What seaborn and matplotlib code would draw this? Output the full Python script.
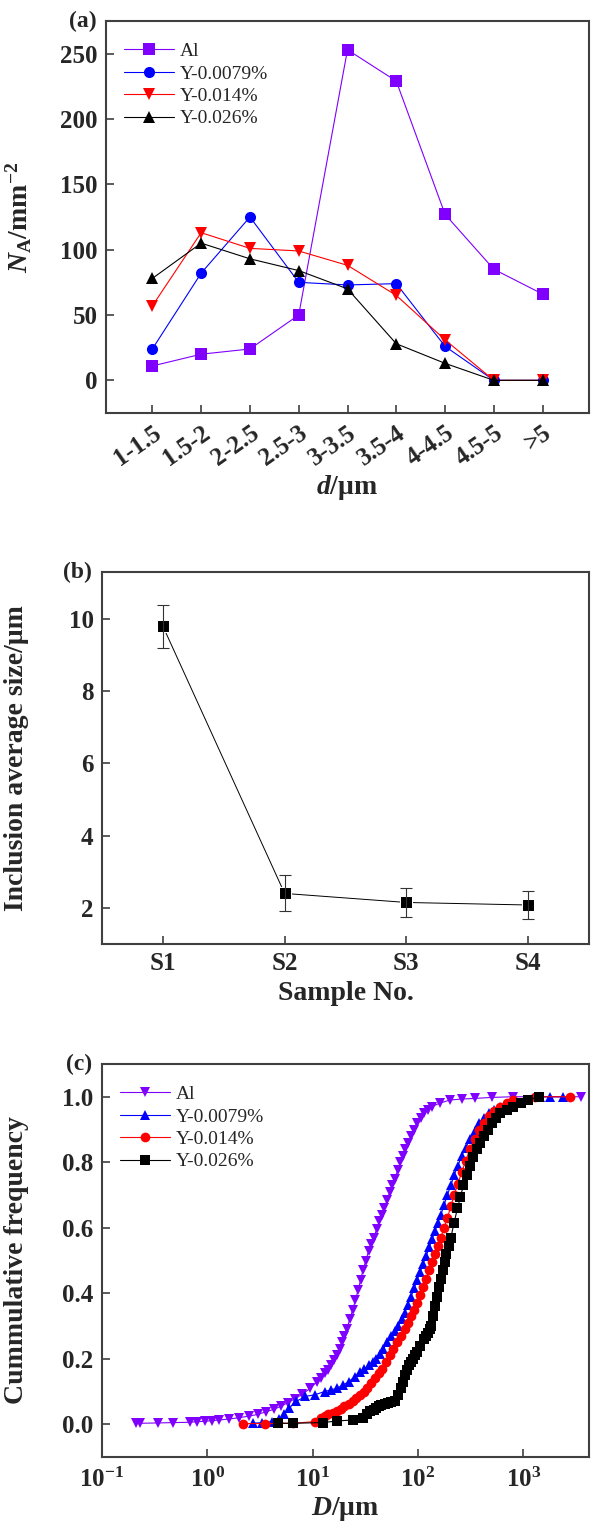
import numpy as np
import pandas as pd
import seaborn as sns
import matplotlib.pyplot as plt

# ---- (a) number of inclusions per area vs size class
size_class = ["1-1.5", "1.5-2", "2-2.5", "2.5-3", "3-3.5", "3.5-4", "4-4.5", "4.5-5", ">5"]
na_al = [11, 20, 24, 50, 253, 229, 127, 85, 66]
na_y0079 = [24, 82, 125, 75, 73, 74, 26, 0, 0]
na_y014 = [57, 113, 101, 99, 88, 65, 31, 0, 0]
na_y026 = [78, 105, 93, 84, 70, 28, 13, 0, 0]

# ---- (b) average inclusion size
samples = ["S1", "S2", "S3", "S4"]
avg_size = [9.8, 2.4, 2.15, 2.08]
size_err = [0.6, 0.5, 0.4, 0.4]

# ---- (c) cumulative frequency
d_al = [0.21, 0.23, 0.34, 0.47, 0.68, 0.8, 0.95, 1.1, 1.3, 1.6, 2.0, 2.5, 3.0, 3.6, 4.3, 5.0,
        5.8, 6.8, 8.0, 9.5, 11, 12, 13, 14, 15, 16, 17, 18, 19, 20, 21, 22.5, 24, 25.5, 27,
        28.5, 30, 32, 34, 36, 38, 40.5, 43, 45.5, 48, 51, 54, 57, 60, 64, 68, 72, 76, 81, 86,
        92, 98, 106, 115, 125, 135, 160, 200, 260, 350, 500, 800, 3500]
f_al = [0.003, 0.003, 0.004, 0.005, 0.006, 0.008, 0.009, 0.011, 0.013, 0.016, 0.02, 0.025,
        0.03, 0.038, 0.046, 0.055, 0.066, 0.078, 0.092, 0.11, 0.13, 0.142, 0.155, 0.167, 0.18,
        0.195, 0.21, 0.23, 0.25, 0.27, 0.29, 0.32, 0.35, 0.38, 0.41, 0.44, 0.47, 0.50, 0.53,
        0.55, 0.57, 0.595, 0.62, 0.64, 0.66, 0.685, 0.71, 0.73, 0.75, 0.775, 0.8, 0.82, 0.84,
        0.86, 0.88, 0.90, 0.92, 0.935, 0.95, 0.96, 0.97, 0.98, 0.99, 0.993, 0.995, 0.998,
        1.0, 1.0]
d_y0079 = [2.7, 3.3, 4.1, 4.8, 5.4, 6.0, 7.0, 8.5, 10.5, 13, 15, 17, 19.5, 22, 25, 28, 31, 34,
           37, 40, 43.5, 47, 51, 55, 60, 65, 70, 75, 80, 86, 92, 98, 105, 112, 120, 128, 136,
           145, 155, 165, 177, 190, 205, 220, 240, 260, 285, 310, 345, 380, 420, 470, 530,
           600, 700, 800, 1100, 1450, 1800, 2400]
f_y0079 = [0.003, 0.005, 0.008, 0.015, 0.03, 0.05, 0.07, 0.085, 0.09, 0.1, 0.105, 0.11, 0.12,
           0.13, 0.145, 0.16, 0.17, 0.18, 0.19, 0.2, 0.215, 0.23, 0.25, 0.27, 0.285, 0.3,
           0.32, 0.34, 0.365, 0.39, 0.415, 0.44, 0.465, 0.49, 0.515, 0.54, 0.565, 0.59, 0.615,
           0.64, 0.67, 0.7, 0.73, 0.76, 0.79, 0.82, 0.845, 0.87, 0.895, 0.92, 0.935, 0.95,
           0.96, 0.97, 0.975, 0.98, 0.99, 1.0, 1.0, 1.0]
d_y014 = [2.2, 3.5, 6.5, 10.5, 12, 13, 14, 15.5, 17, 18.5, 20, 22, 24, 26, 28, 30.5, 33, 36,
          39, 42.5, 46, 50, 54, 58.5, 63, 69, 75, 80, 86, 92, 98, 105, 112, 120, 128, 136,
          145, 155, 165, 177, 190, 205, 220, 240, 260, 285, 310, 345, 380, 420, 470, 530, 600,
          700, 800, 1300, 2800]
f_y014 = [0.002, 0.002, 0.003, 0.008, 0.02, 0.025, 0.03, 0.035, 0.04, 0.048, 0.055, 0.062,
          0.07, 0.08, 0.09, 0.1, 0.11, 0.125, 0.14, 0.155, 0.17, 0.19, 0.21, 0.23, 0.25, 0.27,
          0.29, 0.31, 0.33, 0.35, 0.37, 0.395, 0.42, 0.445, 0.47, 0.495, 0.52, 0.545, 0.57,
          0.6, 0.63, 0.665, 0.7, 0.735, 0.77, 0.805, 0.84, 0.87, 0.9, 0.92, 0.94, 0.955, 0.97,
          0.98, 0.99, 1.0, 1.0]
d_y026 = [4.7, 6.5, 12.4, 17, 24, 30, 33, 35, 38, 40, 42.5, 45, 48.5, 52, 56, 60, 64.5, 69,
          72.5, 76, 79, 82, 86, 90, 94, 98, 105, 113, 119, 125, 129, 133, 139, 145, 151, 158,
          165, 172, 179, 186, 195, 205, 220, 237, 253, 270, 290, 310, 335, 360, 390, 420, 460,
          500, 550, 600, 700, 800, 950, 1100, 1400]
f_y026 = [0.003, 0.003, 0.005, 0.01, 0.013, 0.02, 0.03, 0.04, 0.045, 0.05, 0.055, 0.06, 0.063,
          0.065, 0.068, 0.07, 0.09, 0.11, 0.13, 0.15, 0.165, 0.18, 0.19, 0.2, 0.21, 0.22, 0.24,
          0.26, 0.27, 0.28, 0.29, 0.3, 0.33, 0.36, 0.39, 0.42, 0.445, 0.47, 0.495, 0.52, 0.545,
          0.57, 0.615, 0.66, 0.695, 0.73, 0.76, 0.79, 0.815, 0.84, 0.86, 0.88, 0.9, 0.92,
          0.935, 0.95, 0.96, 0.97, 0.98, 0.99, 1.0]

labels = ["Al", "Y-0.0079%", "Y-0.014%", "Y-0.026%"]
colors = {"Al": "#7f00ff", "Y-0.0079%": "#0000ff", "Y-0.014%": "#ff0000", "Y-0.026%": "#000000"}

sns.set_style("white")
plt.rcParams['font.family'] = ['Liberation Serif', 'DejaVu Serif']
plt.rcParams['font.weight'] = 'bold'
plt.rcParams['axes.labelweight'] = 'bold'
plt.rcParams['mathtext.fontset'] = 'custom'
plt.rcParams['mathtext.rm'] = 'Liberation Serif:bold'
plt.rcParams['mathtext.it'] = 'Liberation Serif:italic:bold'
plt.rcParams['mathtext.bf'] = 'Liberation Serif:bold'

W, H = 591, 1530
fig = plt.figure(figsize=(W / 100, H / 100), dpi=100)

def box(l, t, r, b):
    return [l / W, 1 - b / H, (r - l) / W, (b - t) / H]

ax_a = fig.add_axes(box(106, 21, 589, 413))
ax_b = fig.add_axes(box(102, 572, 589, 944))
ax_c = fig.add_axes(box(102, 1064, 589, 1457))

def style_axis(ax):
    for s in ax.spines.values():
        s.set_color("#404040")
        s.set_linewidth(1.5)
    ax.tick_params(direction="in", length=6, width=1.2, color="#404040",
                   labelsize=18, bottom=True, left=True, top=False, right=False, pad=6)
    for t in ax.get_xticklabels() + ax.get_yticklabels():
        t.set_fontweight("bold")

# ---- (a)
df_a = pd.DataFrame({
    "d": size_class * 4,
    "NA": na_al + na_y0079 + na_y014 + na_y026,
    "sample": np.repeat(labels, len(size_class)),
})
sns.lineplot(data=df_a, x="d", y="NA", hue="sample", style="sample", sort=False,
             palette=colors, markers={"Al": "s", "Y-0.0079%": "o", "Y-0.014%": "v", "Y-0.026%": "^"},
             dashes=False, markersize=8, markeredgewidth=0, linewidth=0.8, ax=ax_a)
ax_a.set_xlim(-0.95, 8.95)
ax_a.set_ylim(-25, 275)
ax_a.set_yticks([0, 50, 100, 150, 200, 250])
ax_a.set_xlabel(r"$\mathit{d}$/μm", fontsize=20, labelpad=2)
ax_a.set_ylabel(r"$\mathit{N}_{\mathrm{A}}$/mm$^{-2}$", fontsize=20)
style_axis(ax_a)
plt.setp(ax_a.get_xticklabels(), rotation=35, ha="right", rotation_mode="anchor")
sns.move_legend(ax_a, "upper left", bbox_to_anchor=(0.0, 0.99), frameon=False, title=None,
                handlelength=2.6, handletextpad=0.3, labelspacing=0.25,
                prop={"weight": "normal", "size": 14})
ax_a.text(-0.02, 1.0, "(a)", transform=ax_a.transAxes, ha="right", va="center", fontsize=17)

# ---- (b)
df_b = pd.DataFrame({"sample": samples, "size": avg_size})
sns.lineplot(data=df_b, x="sample", y="size", sort=False, color="black", marker="s",
             markersize=8, linewidth=0.7, ax=ax_b)
ax_b.errorbar(samples, avg_size, yerr=size_err, fmt="none", ecolor="#333333",
              elinewidth=0.8, capsize=4, capthick=0.8)
ax_b.set_xlim(-0.5, 3.5)
ax_b.set_ylim(1, 11.3)
ax_b.set_yticks([2, 4, 6, 8, 10])
ax_b.set_xlabel("Sample No.", fontsize=20, labelpad=4)
ax_b.set_ylabel("Inclusion average size/μm", fontsize=20)
style_axis(ax_b)
ax_b.text(-0.02, 1.0, "(b)", transform=ax_b.transAxes, ha="right", va="center", fontsize=17)

# ---- (c)
df_c = pd.concat([
    pd.DataFrame({"D": d_al, "F": f_al, "sample": "Al"}),
    pd.DataFrame({"D": d_y0079, "F": f_y0079, "sample": "Y-0.0079%"}),
    pd.DataFrame({"D": d_y014, "F": f_y014, "sample": "Y-0.014%"}),
    pd.DataFrame({"D": d_y026, "F": f_y026, "sample": "Y-0.026%"}),
], ignore_index=True)
sns.lineplot(data=df_c, x="D", y="F", hue="sample", style="sample", estimator=None,
             palette=colors, markers={"Al": "v", "Y-0.0079%": "^", "Y-0.014%": "o", "Y-0.026%": "s"},
             dashes=False, markersize=7, markeredgewidth=0, linewidth=0.8, ax=ax_c)
ax_c.set_xscale("log")
ax_c.set_xlim(0.1, 4200)
ax_c.set_ylim(-0.1, 1.1)
ax_c.set_xticks([0.1, 1, 10, 100, 1000])
ax_c.minorticks_off()
ax_c.set_yticks([0.0, 0.2, 0.4, 0.6, 0.8, 1.0])
ax_c.set_xlabel(r"$\mathit{D}$/μm", fontsize=20, labelpad=2)
ax_c.set_ylabel("Cummulative frequency", fontsize=20)
style_axis(ax_c)
ax_c.tick_params(axis="x", pad=8)
sns.move_legend(ax_c, "upper left", bbox_to_anchor=(0.0, 0.99), frameon=False, title=None,
                handlelength=2.6, handletextpad=0.3, labelspacing=0.25,
                prop={"weight": "normal", "size": 14})
ax_c.text(-0.02, 1.0, "(c)", transform=ax_c.transAxes, ha="right", va="center", fontsize=17)

for ax in (ax_a, ax_b, ax_c):
    ax.yaxis.set_label_coords(-0.15, 0.5)

fig.savefig("out.png", dpi=100)
plt.close(fig)
